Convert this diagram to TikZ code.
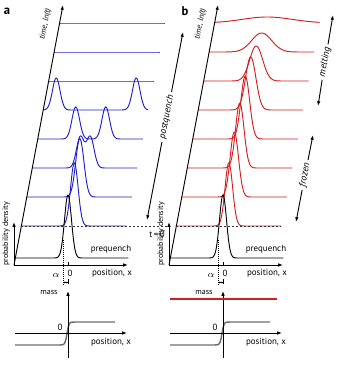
\documentclass[tikz,border=0pt]{standalone}
\usepackage{fontspec}
\setmainfont{PT Sans}
\setsansfont{PT Sans}
\usetikzlibrary{arrows.meta}
\definecolor{qblue}{RGB}{30,30,205}
\definecolor{qred}{RGB}{212,30,30}
\definecolor{stepgray}{RGB}{110,110,110}
\tikzset{
  declare function={g(\u,\c,\s)=exp(max(-15,-((\u-\c)^2)/(2*\s*\s)));},
  smalltxt/.style={font=\fontsize{6}{7}\selectfont,inner sep=1pt},
  midtxt/.style={font=\fontsize{6.7}{7.5}\selectfont,inner sep=1pt},
  bigtxt/.style={font=\fontsize{7.2}{8}\selectfont\itshape,inner sep=2pt,rotate=79},
  tzero/.style={dash pattern=on 1.6pt off 1.4pt,line width=0.6pt,black!80},
}
\begin{document}
\begin{tikzpicture}[x=0.75pt,y=-0.75pt,>={Latex[length=3.6pt,width=2.6pt]},font=\sffamily,line width=0.7pt]
\useasboundingbox (0,0) rectangle (339,368);
\node[font=\bfseries\fontsize{9.5}{10}\selectfont] (lbl-a) at (7,11) {a};
\node[font=\bfseries\fontsize{9.5}{10}\selectfont] (lbl-b) at (185,11) {b};
\foreach \kk/\dsep/\hgt in {0/0/31.5,1/3/31.5,2/10/31,3/30/32,4/80/32,5/0/0,6/0/0,7/0/0}{
  \pgfmathsetmacro\yb{226-29*\kk}
  \pgfmathsetmacro\xb{14+(265-\yb)*0.1885}
  \draw[qblue] plot[domain=0:105,samples=211] ({\xb+\x},{\yb-\hgt*(g(\x,53-\dsep/2,3.8)+g(\x,53+\dsep/2,3.8))});
}
\foreach \kk/\hgt/\wid in {0/63/3.8,1/65/4.2,2/65/4.2,3/63/4.4,4/53/5.2,5/35/6.5,6/19/10,7/6/25}{
  \pgfmathsetmacro\yb{226-29*\kk}
  \pgfmathsetmacro\xb{169+(265-\yb)*0.1885}
  \draw[qred] plot[domain=0:105,samples=211] ({\xb+\x},{\yb-\hgt*g(\x,52.5,\wid)});
}
\foreach \ox/\p/\dl in {0/a/149,155/b/105}{
  \coordinate (o-\p) at (\ox+14,265);
  \draw[->] (o-\p) -- ++(49,-260);
  \draw[->] (o-\p) -- ++(114,0);
  \draw[->] (o-\p) -- ++(0,-43);
  \draw plot[domain=0:113,samples=227] ({\ox+15.3+\x},{258-63*g(\x,52.7,3.5)});
  \draw[tzero] (\ox+21.3,226) -- ++(\dl,0);
  \node[smalltxt,rotate=90] (pd-\p) at (\ox+6,234) {probability density};
  \node[smalltxt,rotate=79] (tl-\p) at (\ox+45.5,24) {\itshape time, ln(t)};
  \node[midtxt] (pre-\p) at (\ox+111,249) {prequench};
  \node[midtxt] (px-\p) at (\ox+112,273) {position, x};
  \draw[densely dotted,line width=0.5pt] (\ox+63,240) -- (\ox+63,285);
  \draw[line width=0.5pt] (\ox+68.5,262) -- (\ox+68.5,265);
  \node[midtxt] (zero-\p) at (\ox+70,273) {0};
  \node[midtxt] (al-\p) at (\ox+56,275) {$\alpha$};
  \draw[<->,line width=0.4pt,>={Latex[length=1.5pt,width=1.5pt]}] (\ox+63,282.5) -- (\ox+68.5,282.5);
  \draw[line width=0.4pt] (\ox+68.5,279) -- (\ox+68.5,284);
  \coordinate (m-\p) at (\ox+68,333);
  \draw[stepgray,line width=1.1pt] plot[domain=15:115,samples=201] ({\ox+\x},{333.5-11.5*tanh(max(-5,min(5,(\x-67)/2)))});
  \draw[->] (\ox+15,333) -- (\ox+127,333);
  \draw[->] (\ox+68,358) -- (\ox+68,291);
  \node[smalltxt] (ms-\p) at (\ox+49,292) {mass};
  \node[midtxt] (mz-\p) at (\ox+60,327) {0};
  \node[midtxt] (mx-\p) at (\ox+111,342) {position, x};
}
\draw[qred,line width=0.9pt] (170,299) -- (277,299);
\node[midtxt] (tz) at (157,234) {t\,=\,0};
\node[bigtxt] (pq) at (166.7,117) {postquench};
\coordinate (pq-t) at (183,32);
\coordinate (pq-b) at (147,220);
\draw[->] (pq) -- (pq-t);
\draw[->] (pq) -- (pq-b);
\node[bigtxt] (fr) at (305,175) {frozen};
\coordinate (fr-t) at (313,135);
\coordinate (fr-b) at (296,222);
\draw[->] (fr) -- (fr-t);
\draw[->] (fr) -- (fr-b);
\node[bigtxt] (me) at (325,62) {melting};
\coordinate (me-t) at (333,15);
\coordinate (me-b) at (318,106);
\draw[->] (me) -- (me-t);
\draw[->] (me) -- (me-b);
\end{tikzpicture}
\end{document}
